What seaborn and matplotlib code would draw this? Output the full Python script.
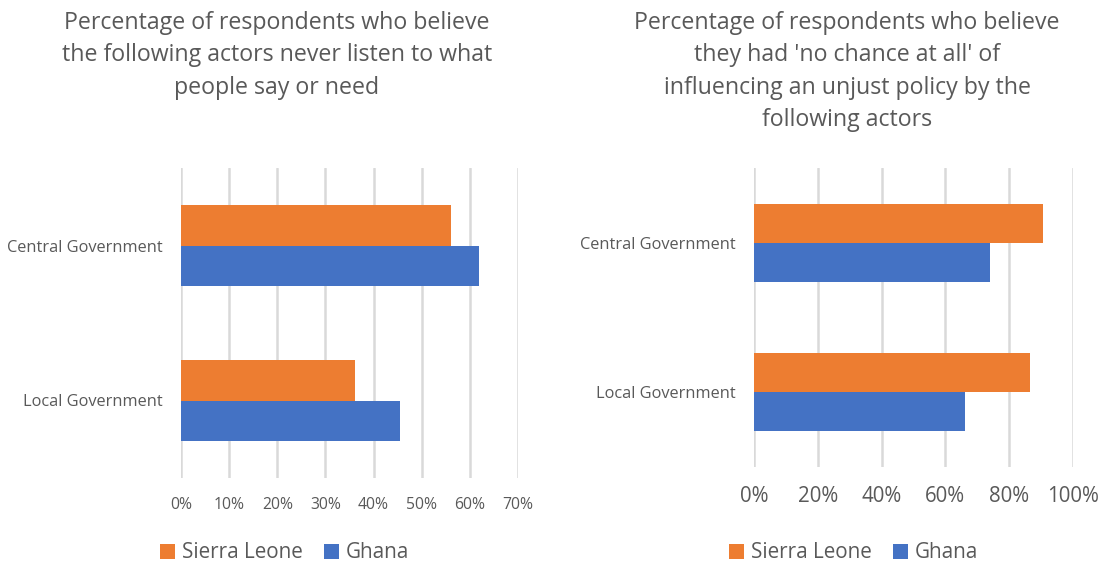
import seaborn as sns
import matplotlib.pyplot as plt
import pandas as pd

actors = ['Central Government', 'Local Government']
countries = ['Sierra Leone', 'Ghana']

# left chart: never listen
never_listen_sl = [0.56, 0.362]
never_listen_gh = [0.62, 0.454]

# right chart: no chance at all
no_chance_sl = [0.905, 0.865]
no_chance_gh = [0.741, 0.661]

left_title = "Percentage of respondents who believe\nthe following actors never listen to what\npeople say or need"
right_title = "Percentage of respondents who believe\nthey had 'no chance at all' of\ninfluencing an unjust policy by the\nfollowing actors"

left_ticks = [0, 0.1, 0.2, 0.3, 0.4, 0.5, 0.6, 0.7]
right_ticks = [0, 0.2, 0.4, 0.6, 0.8, 1.0]

sns.set_style('white')
plt.rcParams['font.family'] = ['Open Sans', 'DejaVu Sans']
grey = '#595959'
colors = {'Sierra Leone': '#ED7D31', 'Ghana': '#4472C4'}


def make_df(sl, gh):
    rows = []
    for a, v in zip(actors, sl):
        rows.append({'Actor': a, 'Country': 'Sierra Leone', 'Value': v})
    for a, v in zip(actors, gh):
        rows.append({'Actor': a, 'Country': 'Ghana', 'Value': v})
    return pd.DataFrame(rows)


fig = plt.figure(figsize=(11.04, 5.65), dpi=100)
ax1 = fig.add_axes([181 / 1104, 1 - 478 / 565, 337 / 1104, 310 / 565])
ax2 = fig.add_axes([754 / 1104, 1 - 467 / 565, 319 / 1104, 299 / 565])


def draw(ax, df, ticks, xmax, tick_fs, title, title_x, legend_x):
    sns.barplot(data=df, y='Actor', x='Value', hue='Country', order=actors,
                hue_order=countries, palette=colors, width=0.52, gap=0,
                saturation=1, linewidth=0, ax=ax, legend=True)
    ax.set_xlim(0, xmax)
    ax.set_ylim(1.5, -0.5)
    ax.set_xticks(ticks)
    ax.set_xticklabels([f'{int(round(t * 100))}%' for t in ticks],
                       fontsize=tick_fs, color=grey)
    ax.tick_params(axis='y', labelsize=11.8, colors=grey, length=0, pad=13)
    ax.tick_params(axis='x', length=0, pad=14)
    ax.set_xlabel('')
    ax.set_ylabel('')
    ax.grid(axis='x', color='#D9D9D9', linewidth=1.8)
    ax.set_axisbelow(True)
    for s in ax.spines.values():
        s.set_visible(False)
    fig.text(title_x, 1 - 11 / 565, title, ha='center', va='top',
             fontsize=16.7, color=grey, linespacing=1.47)
    h, l = ax.get_legend_handles_labels()
    ax.get_legend().remove()
    fig.legend(h, l, loc='center left', bbox_to_anchor=(legend_x, 1 - 553 / 565),
               ncol=2, frameon=False, fontsize=14.9, labelcolor=grey,
               handlelength=0.7, handleheight=0.7, handletextpad=0.35,
               columnspacing=1.05, borderaxespad=0)


draw(ax1, make_df(never_listen_sl, never_listen_gh), left_ticks, 0.7, 11.3,
     left_title, 277 / 1104, 152 / 1104)
draw(ax2, make_df(no_chance_sl, no_chance_gh), right_ticks, 1.0, 14.8,
     right_title, 847 / 1104, 721 / 1104)

fig.savefig('out.png', dpi=100)
